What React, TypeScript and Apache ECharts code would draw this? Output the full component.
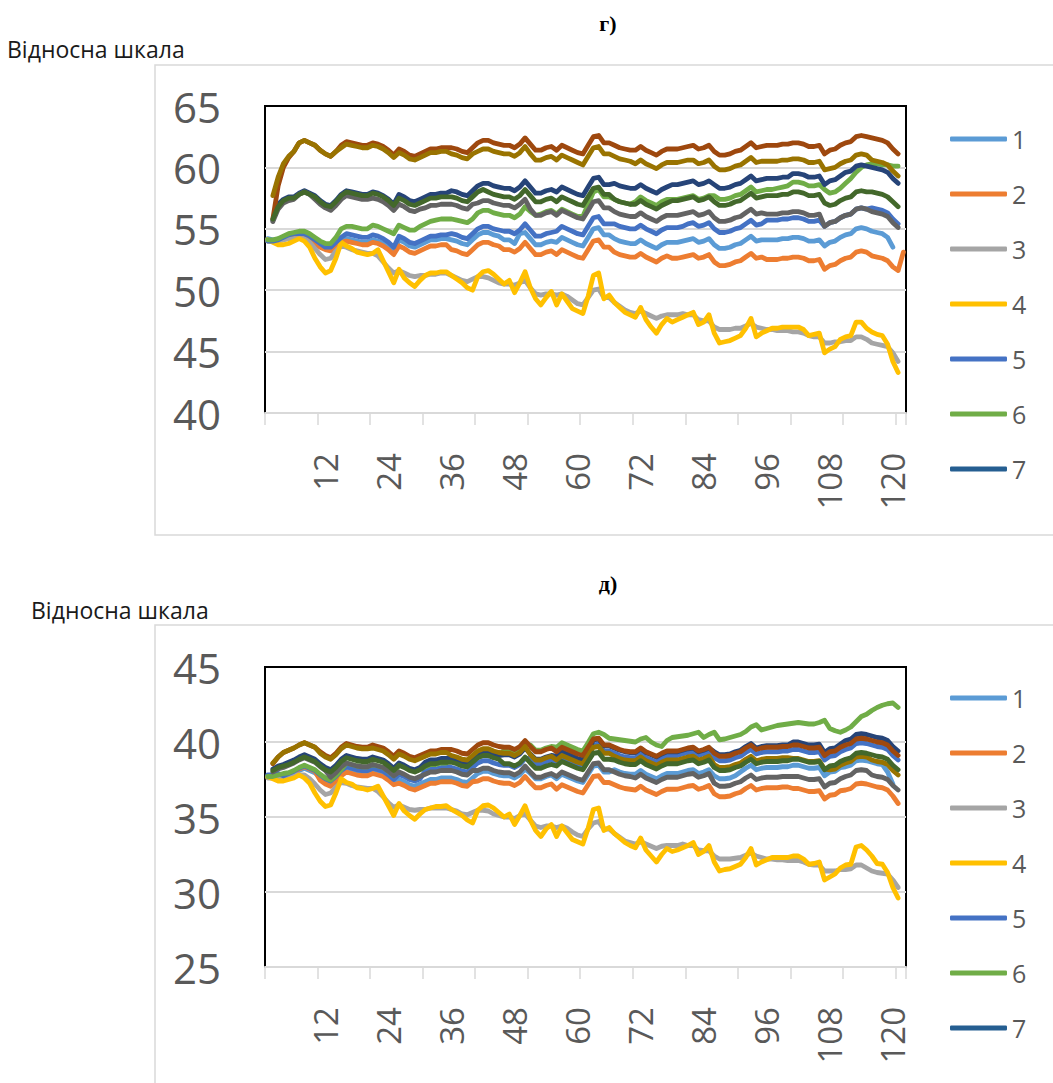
import React, { useEffect, useRef } from "react";
import * as echarts from "echarts";

// Category positions 1..122 along both x axes
const CATEGORIES = Array.from({ length: 122 }, (_, k) => String(k + 1));

const SERIES_NAMES = ["1", "2", "3", "4", "5", "6", "7", "8", "9", "10", "11"];
const SERIES_COLORS = [
  "#5B9BD5", "#ED7D31", "#A5A5A5", "#FFC000", "#4472C4", "#70AD47",
  "#264478", "#9E480E", "#636363", "#997300", "#43682B",
];
const LEGEND_NAMES = ["1", "2", "3", "4", "5", "6", "7"];
const LEGEND_7_COLOR = "#255E91";

const TITLE_TOP = "г)";
const TITLE_BOTTOM = "д)";
const Y_CAPTION = "Відносна шкала";

// ---------- panel г) ----------
const G_S1 = [
  54.2, 54.1, 54.1, 54.2, 54.4, 54.5, 54.5, 54.5, 54.3, 54.0,
  53.7, 53.5, 53.5, 53.8, 54.1, 54.2, 54.1, 54.0, 53.9, 53.9,
  54.1, 54.0, 53.8, 53.5, 53.1, 54.1, 53.9, 53.6, 53.5, 53.7,
  53.9, 54.1, 54.1, 54.2, 54.2, 54.1, 54.0, 53.8, 53.7, 54.1,
  54.5, 54.7, 54.7, 54.5, 54.4, 54.1, 54.1, 53.8, 54.6, 54.7,
  54.2, 53.7, 53.7, 53.9, 54.0, 53.9, 54.3, 54.1, 53.9, 53.7,
  53.6, 54.3, 55.0, 55.1, 54.5, 54.5, 54.2, 54.0, 53.9, 53.8,
  53.8, 54.1, 53.8, 53.6, 53.4, 53.7, 53.9, 53.9, 53.9, 54.0,
  54.1, 54.2, 53.9, 54.0, 54.2, 53.7, 53.4, 53.4, 53.5, 53.7,
  53.8, 54.1, 54.4, 54.0, 54.1, 54.1, 54.1, 54.1, 54.2, 54.2,
  54.3, 54.3, 54.2, 54.0, 54.0, 54.1, 53.6, 53.9, 54.0, 54.3,
  54.5, 54.6, 55.0, 55.1, 55.0, 54.8, 54.7, 54.6, 54.3, 53.5,
  null, null,
];
const G_S2 = [
  54.0, 54.0, 54.1, 54.2, 54.3, 54.4, 54.4, 54.3, 54.1, 53.8,
  53.5, 53.3, 53.2, 53.5, 53.9, 54.0, 53.9, 53.8, 53.7, 53.7,
  53.9, 53.8, 53.6, 53.3, 52.9, 53.6, 53.4, 53.1, 53.0, 53.2,
  53.4, 53.6, 53.6, 53.7, 53.7, 53.3, 53.2, 53.0, 52.9, 53.3,
  53.7, 53.9, 53.9, 53.7, 53.6, 53.3, 53.3, 53.1, 53.4, 53.9,
  53.4, 52.9, 52.9, 53.1, 53.2, 52.9, 53.3, 53.1, 52.9, 52.7,
  52.6, 53.3, 54.0, 54.1, 53.5, 53.5, 53.1, 52.9, 52.8, 52.7,
  52.7, 53.0, 52.7, 52.5, 52.3, 52.6, 52.8, 52.6, 52.6, 52.7,
  52.8, 52.9, 52.6, 52.7, 52.9, 52.3, 52.0, 52.0, 52.1, 52.3,
  52.4, 52.7, 53.0, 52.6, 52.7, 52.5, 52.5, 52.5, 52.6, 52.6,
  52.7, 52.7, 52.6, 52.4, 52.4, 52.5, 51.7, 52.0, 52.1, 52.4,
  52.6, 52.7, 53.1, 53.2, 53.1, 52.8, 52.7, 52.6, 52.4, 51.9,
  51.6, 53.1,
];
const G_S3 = [
  54.0, 54.0, 54.0, 54.1, 54.2, 54.2, 54.2, 54.2, 53.9, 53.4,
  52.9, 52.5, 52.6, 53.2, 53.6, 53.5, 53.3, 53.2, 53.1, 53.0,
  53.0, 52.8, 52.3, 51.8, 51.4, 51.6, 51.4, 51.2, 51.1, 51.2,
  51.2, 51.3, 51.3, 51.4, 51.4, 51.2, 51.0, 50.8, 50.7, 50.9,
  51.1, 51.1, 51.0, 50.8, 50.6, 50.5, 50.5, 50.4, 50.6, 50.8,
  50.2, 49.7, 49.6, 49.7, 49.7, 49.6, 49.7, 49.5, 49.2, 48.9,
  48.8, 49.4, 50.0, 50.1, 49.4, 49.4, 49.0, 48.7, 48.4, 48.2,
  48.1, 48.3, 48.1, 47.9, 47.7, 47.9, 48.0, 48.0, 48.0, 48.1,
  48.0, 48.0, 47.6, 47.5, 47.5, 47.0, 46.8, 46.8, 46.8, 46.9,
  46.9, 47.1, 47.3, 47.0, 46.9, 46.8, 46.8, 46.7, 46.7, 46.7,
  46.6, 46.6, 46.5, 46.3, 46.2, 46.2, 45.7, 45.7, 45.8, 45.8,
  45.9, 45.9, 46.2, 46.2, 46.0, 45.7, 45.6, 45.5, 45.4, 44.9,
  44.2, null,
];
const G_S4 = [
  54.1, 53.9, 53.7, 53.7, 53.8, 54.0, 54.2, 54.0, 53.5, 52.6,
  51.9, 51.4, 51.6, 52.6, 53.9, 53.6, 53.4, 53.1, 53.0, 52.9,
  53.0, 53.3, 52.4, 51.5, 50.6, 51.7, 51.0, 50.6, 50.3, 50.8,
  51.2, 51.4, 51.4, 51.5, 51.5, 51.2, 50.9, 50.6, 50.2, 50.0,
  51.1, 51.5, 51.6, 51.3, 50.9, 50.5, 50.8, 49.8, 50.6, 51.5,
  50.2, 49.3, 48.8, 49.4, 49.9, 48.8, 49.7, 49.1, 48.5, 48.3,
  48.1, 49.5, 51.2, 51.4, 49.3, 49.6, 49.0, 48.6, 48.2, 48.0,
  47.8, 48.6, 47.6, 47.0, 46.5, 47.2, 47.7, 47.4, 47.6, 47.8,
  48.0, 48.2, 47.2, 47.4, 48.0, 46.5, 45.7, 45.8, 45.9, 46.1,
  46.3, 46.9, 47.7, 46.2, 46.5, 46.7, 46.9, 46.9, 47.0, 47.0,
  47.0, 47.0, 46.8, 46.3, 46.4, 46.5, 44.9, 45.2, 45.4, 46.0,
  46.2, 46.3, 47.4, 47.4, 46.9, 46.6, 46.4, 46.3, 45.6, 44.2,
  43.3, null,
];
const G_S5 = [
  54.0, 54.0, 54.1, 54.3, 54.5, 54.6, 54.6, 54.6, 54.4, 54.1,
  53.8, 53.5, 53.5, 53.9, 54.3, 54.6, 54.5, 54.4, 54.3, 54.3,
  54.5, 54.4, 54.2, 53.9, 53.5, 54.4, 54.2, 53.9, 53.8, 54.0,
  54.2, 54.4, 54.4, 54.5, 54.5, 54.6, 54.5, 54.3, 54.2, 54.6,
  55.0, 55.2, 55.2, 55.0, 54.9, 54.8, 54.8, 54.6, 54.9, 55.4,
  54.9, 54.4, 54.4, 54.6, 54.7, 54.8, 55.2, 55.0, 54.8, 54.6,
  54.5, 55.2, 55.9, 56.0, 55.4, 55.4, 55.4, 55.2, 55.1, 55.0,
  55.0, 55.3, 55.0, 54.8, 54.6, 54.9, 55.1, 55.1, 55.1, 55.2,
  55.4, 55.5, 55.2, 55.3, 55.5, 55.0, 54.7, 54.7, 54.8, 55.0,
  55.1, 55.4, 55.7, 55.3, 55.4, 55.7, 55.7, 55.7, 55.8, 55.8,
  55.9, 55.9, 55.8, 55.6, 55.6, 55.7, 55.2, 55.5, 55.6, 55.9,
  56.1, 56.2, 56.6, 56.7, 56.6, 56.7, 56.6, 56.5, 56.3, 55.8,
  55.4, null,
];
const G_S6 = [
  54.1, 54.1, 54.2, 54.4, 54.6, 54.7, 54.8, 54.8, 54.6, 54.3,
  54.0, 53.8, 53.8, 54.3, 55.0, 55.2, 55.2, 55.1, 55.0, 55.0,
  55.3, 55.2, 55.0, 54.8, 54.6, 55.3, 55.1, 54.9, 54.9, 55.2,
  55.4, 55.6, 55.7, 55.8, 55.8, 55.8, 55.7, 55.6, 55.5, 55.8,
  56.3, 56.5, 56.5, 56.3, 56.2, 56.1, 56.1, 55.9, 56.2, 56.8,
  56.4, 56.1, 56.2, 56.4, 56.5, 56.2, 56.6, 56.4, 56.2, 56.0,
  56.0, 57.0, 58.0, 58.2, 57.6, 57.6, 57.4, 57.2, 57.1, 57.0,
  57.2, 57.6, 57.3, 57.1, 56.9, 57.2, 57.4, 57.4, 57.4, 57.5,
  57.6, 57.7, 57.4, 57.5, 57.7, 57.7, 57.4, 57.4, 57.5, 57.7,
  57.8, 58.1, 58.4, 58.0, 58.1, 58.2, 58.2, 58.3, 58.4, 58.5,
  58.8, 58.8, 58.7, 58.5, 58.5, 58.6, 58.2, 57.9, 58.0, 58.3,
  58.7, 59.1, 59.6, 60.0, 60.2, 60.3, 60.3, 60.2, 60.2, 60.1,
  60.1, null,
];
const G_S7 = [
  null, 55.7, 57.0, 57.4, 57.6, 57.6, 57.9, 58.1, 57.9, 57.7,
  57.3, 57.0, 56.9, 57.3, 57.8, 58.1, 58.0, 57.9, 57.8, 57.8,
  58.0, 57.9, 57.7, 57.4, 57.0, 57.8, 57.6, 57.3, 57.2, 57.4,
  57.6, 57.8, 57.8, 57.9, 57.9, 58.1, 58.0, 57.8, 57.7, 58.1,
  58.5, 58.7, 58.7, 58.5, 58.4, 58.3, 58.3, 58.1, 58.4, 58.9,
  58.4, 57.9, 57.9, 58.1, 58.2, 58.0, 58.4, 58.2, 58.0, 57.8,
  57.7, 58.4, 59.1, 59.2, 58.6, 58.6, 58.7, 58.5, 58.4, 58.3,
  58.3, 58.6, 58.3, 58.1, 57.9, 58.2, 58.4, 58.6, 58.6, 58.7,
  58.8, 58.9, 58.6, 58.7, 58.9, 58.6, 58.3, 58.3, 58.4, 58.6,
  58.7, 59.0, 59.3, 58.9, 59.0, 59.1, 59.1, 59.1, 59.2, 59.2,
  59.5, 59.5, 59.4, 59.2, 59.2, 59.3, 58.6, 58.9, 59.0, 59.3,
  59.6, 59.7, 60.1, 60.2, 60.1, 60.0, 59.9, 59.8, 59.6, 59.1,
  58.7, null,
];
const G_S8 = [
  null, 55.8, 58.5, 60.0, 60.8, 61.3, 62.0, 62.2, 62.0, 61.8,
  61.4, 61.1, 60.9, 61.3, 61.8, 62.1, 62.0, 61.9, 61.8, 61.8,
  62.0, 61.9, 61.7, 61.4, 61.0, 61.5, 61.3, 61.0, 60.9, 61.1,
  61.3, 61.5, 61.5, 61.6, 61.6, 61.6, 61.5, 61.3, 61.2, 61.6,
  62.0, 62.2, 62.2, 62.0, 61.9, 61.8, 61.8, 61.6, 61.9, 62.4,
  61.9, 61.4, 61.4, 61.6, 61.7, 61.4, 61.8, 61.6, 61.4, 61.2,
  61.1, 61.8, 62.5, 62.6, 62.0, 62.0, 61.8, 61.6, 61.5, 61.4,
  61.4, 61.7, 61.4, 61.2, 61.0, 61.3, 61.5, 61.5, 61.5, 61.6,
  61.7, 61.8, 61.5, 61.6, 61.8, 61.3, 61.0, 61.0, 61.1, 61.3,
  61.4, 61.7, 62.0, 61.6, 61.7, 61.8, 61.8, 61.8, 61.9, 61.9,
  62.0, 62.0, 61.9, 61.7, 61.7, 61.8, 61.1, 61.4, 61.5, 61.8,
  62.0, 62.1, 62.5, 62.6, 62.5, 62.4, 62.3, 62.2, 62.0, 61.5,
  61.1, null,
];
const G_S9 = [
  null, 55.6, 56.6, 57.1, 57.3, 57.4, 57.8, 58.0, 57.8, 57.4,
  57.0, 56.7, 56.5, 56.9, 57.4, 57.7, 57.6, 57.5, 57.4, 57.4,
  57.5, 57.4, 57.2, 56.9, 56.5, 57.0, 56.8, 56.5, 56.4, 56.6,
  56.7, 56.9, 56.9, 57.0, 57.0, 57.0, 56.9, 56.7, 56.6, 57.0,
  57.1, 57.3, 57.3, 57.1, 57.0, 56.9, 56.9, 56.7, 57.0, 57.4,
  56.6, 56.1, 56.1, 56.3, 56.4, 56.1, 56.5, 56.3, 56.1, 55.9,
  55.8, 56.5, 57.2, 57.3, 56.7, 56.7, 56.4, 56.2, 56.1, 56.0,
  56.0, 56.3, 56.0, 55.8, 55.6, 55.9, 56.1, 56.1, 56.1, 56.2,
  56.3, 56.4, 56.1, 56.2, 56.4, 55.9, 55.6, 55.6, 55.7, 55.9,
  56.0, 56.3, 56.6, 56.2, 56.3, 56.2, 56.2, 56.2, 56.3, 56.3,
  56.4, 56.4, 56.3, 56.1, 56.1, 56.2, 55.2, 55.5, 55.6, 55.9,
  56.1, 56.2, 56.6, 56.7, 56.6, 56.4, 56.3, 56.2, 56.0, 55.5,
  55.1, null,
];
const G_S10 = [
  null, 57.7, 59.2, 60.3, 60.9, 61.3, 62.0, 62.2, 62.0, 61.8,
  61.4, 61.1, 60.9, 61.3, 61.6, 61.9, 61.8, 61.7, 61.6, 61.6,
  61.8, 61.7, 61.5, 61.2, 60.8, 61.2, 61.0, 60.7, 60.6, 60.8,
  61.0, 61.2, 61.2, 61.3, 61.3, 61.1, 61.0, 60.8, 60.7, 61.1,
  61.3, 61.5, 61.5, 61.3, 61.2, 61.1, 61.1, 60.9, 61.2, 61.7,
  61.1, 60.6, 60.6, 60.8, 60.9, 60.6, 61.0, 60.8, 60.6, 60.4,
  60.2, 60.9, 61.6, 61.7, 61.1, 61.1, 60.9, 60.7, 60.6, 60.5,
  60.3, 60.6, 60.3, 60.1, 59.9, 60.2, 60.4, 60.4, 60.4, 60.5,
  60.6, 60.6, 60.3, 60.4, 60.6, 60.1, 59.8, 59.8, 59.9, 60.1,
  60.2, 60.5, 60.8, 60.4, 60.5, 60.5, 60.5, 60.5, 60.6, 60.6,
  60.7, 60.7, 60.6, 60.4, 60.4, 60.5, 59.8, 59.9, 60.0, 60.3,
  60.5, 60.6, 61.0, 61.1, 61.0, 60.6, 60.5, 60.4, 60.2, 59.7,
  59.3, null,
];
const G_S11 = [
  null, 55.8, 56.8, 57.3, 57.5, 57.5, 57.8, 58.0, 57.8, 57.6,
  57.2, 56.9, 56.8, 57.2, 57.7, 58.0, 57.9, 57.8, 57.7, 57.7,
  57.9, 57.8, 57.6, 57.3, 56.9, 57.5, 57.3, 57.0, 56.9, 57.1,
  57.3, 57.5, 57.5, 57.6, 57.6, 57.6, 57.5, 57.3, 57.2, 57.6,
  58.0, 58.2, 58.0, 57.8, 57.7, 57.6, 57.6, 57.4, 57.7, 58.2,
  57.7, 57.2, 57.2, 57.4, 57.5, 57.2, 57.6, 57.4, 57.2, 57.0,
  56.9, 57.6, 58.3, 58.4, 57.8, 57.8, 57.4, 57.2, 57.1, 57.0,
  57.0, 57.3, 57.0, 56.8, 56.6, 56.9, 57.1, 57.3, 57.3, 57.4,
  57.5, 57.6, 57.3, 57.4, 57.6, 57.2, 56.9, 56.9, 57.0, 57.2,
  57.3, 57.6, 57.9, 57.5, 57.6, 57.7, 57.7, 57.7, 57.8, 57.8,
  58.0, 58.0, 57.9, 57.7, 57.7, 57.8, 57.1, 56.9, 57.0, 57.3,
  57.5, 57.6, 58.0, 58.1, 58.0, 58.0, 57.9, 57.8, 57.6, 57.2,
  56.8, null,
];

// ---------- panel д) ----------
const D_S1 = [
  37.7, 37.7, 37.7, 37.7, 37.75, 37.9, 38.1, 38.25, 38.1, 37.95,
  37.65, 37.4, 37.25, 37.55, 37.95, 38.2, 38.1, 38.0, 37.95, 37.95,
  38.1, 38.0, 37.9, 37.65, 37.35, 37.5, 37.35, 37.15, 37.05, 37.2,
  37.35, 37.5, 37.5, 37.6, 37.6, 37.6, 37.5, 37.35, 37.3, 37.6,
  37.9, 38.05, 38.05, 37.9, 37.8, 37.75, 37.75, 37.6, 37.8, 38.2,
  37.9, 37.55, 37.55, 37.7, 37.8, 37.55, 37.85, 37.7, 37.55, 37.4,
  37.3, 37.85, 38.4, 38.45, 38.0, 38.0, 38.15, 38.0, 37.9, 37.85,
  37.85, 38.1, 37.85, 37.7, 37.55, 37.75, 37.9, 37.9, 37.9, 38.0,
  38.1, 38.15, 37.9, 38.0, 38.15, 37.75, 37.55, 37.55, 37.6, 37.75,
  38.0, 38.25, 38.45, 38.15, 38.25, 38.3, 38.3, 38.3, 38.35, 38.35,
  38.45, 38.45, 38.35, 38.25, 38.25, 38.3, 37.75, 38.0, 38.05, 38.3,
  38.35, 38.45, 38.75, 38.8, 38.75, 38.65, 38.55, 38.5, 38.0, 37.2,
  null, null,
];
const D_S2 = [
  37.7, 37.7, 37.8, 37.7, 37.85, 38.0, 38.2, 38.35, 38.2, 38.05,
  37.45, 37.2, 37.05, 37.35, 37.75, 38.0, 37.9, 37.8, 37.75, 37.75,
  37.9, 37.8, 37.7, 37.45, 37.15, 37.25, 37.1, 36.9, 36.8, 36.95,
  37.1, 37.25, 37.25, 37.35, 37.35, 37.35, 37.25, 37.1, 37.05, 37.35,
  37.4, 37.55, 37.55, 37.4, 37.3, 37.25, 37.25, 37.1, 37.3, 37.7,
  37.3, 36.95, 36.95, 37.1, 37.2, 36.85, 37.15, 37.0, 36.85, 36.7,
  36.6, 37.15, 37.7, 37.75, 37.3, 37.3, 37.15, 37.0, 36.9, 36.85,
  36.8, 37.05, 36.8, 36.65, 36.5, 36.7, 36.85, 36.85, 36.85, 36.95,
  37.05, 37.1, 36.85, 36.95, 37.1, 36.55, 36.35, 36.35, 36.4, 36.55,
  36.65, 36.9, 37.1, 36.8, 36.9, 36.95, 36.95, 36.95, 37.0, 37.0,
  36.9, 36.9, 36.8, 36.7, 36.7, 36.75, 36.2, 36.45, 36.5, 36.75,
  36.8, 36.9, 37.2, 37.25, 37.2, 37.1, 37.0, 36.95, 36.8, 36.4,
  35.9, null,
];
const D_S3 = [
  37.6, 37.6, 37.6, 37.7, 37.8, 37.8, 37.8, 37.8, 37.55, 37.2,
  36.8, 36.5, 36.6, 37.0, 37.3, 37.25, 37.1, 37.0, 36.95, 36.9,
  36.9, 36.7, 36.35, 35.95, 35.65, 35.8, 35.65, 35.5, 35.45, 35.5,
  35.5, 35.6, 35.6, 35.6, 35.6, 35.5, 35.4, 35.2, 35.15, 35.3,
  35.45, 35.45, 35.4, 35.2, 35.1, 35.0, 35.0, 34.9, 35.1, 35.2,
  34.8, 34.4, 34.3, 34.4, 34.4, 34.3, 34.4, 34.25, 34.0, 33.8,
  33.7, 34.2, 34.6, 34.7, 34.2, 34.2, 33.9, 33.65, 33.4, 33.3,
  33.2, 33.35, 33.2, 33.05, 32.9, 33.05, 33.1, 33.1, 33.1, 33.2,
  33.1, 33.1, 32.8, 32.75, 32.75, 32.4, 32.2, 32.2, 32.2, 32.25,
  32.3, 32.45, 32.6, 32.4, 32.3, 32.2, 32.2, 32.15, 32.15, 32.1,
  32.1, 32.1, 32.0, 31.85, 31.8, 31.8, 31.4, 31.4, 31.4, 31.5,
  31.5, 31.55, 31.8, 31.8, 31.6, 31.4, 31.3, 31.25, 31.2, 30.8,
  30.3, null,
];
const D_S4 = [
  37.7, 37.55, 37.4, 37.4, 37.5, 37.6, 37.8, 37.6, 37.25, 36.6,
  36.05, 35.7, 35.8, 36.6, 37.55, 37.3, 37.2, 36.95, 36.9, 36.8,
  36.9, 37.05, 36.4, 35.75, 35.1, 35.9, 35.4, 35.1, 34.85, 35.2,
  35.5, 35.6, 35.7, 35.7, 35.75, 35.5, 35.3, 35.1, 34.8, 34.6,
  35.45, 35.75, 35.8, 35.6, 35.3, 35.0, 35.2, 34.5, 35.1, 35.75,
  34.8, 34.1, 33.7, 34.2, 34.5, 33.7, 34.4, 33.95, 33.5, 33.35,
  33.2, 34.25, 35.5, 35.6, 34.1, 34.3, 33.9, 33.6, 33.3, 33.1,
  32.95, 33.6, 32.8, 32.4, 32.0, 32.5, 32.9, 32.7, 32.8, 32.95,
  33.1, 33.3, 32.5, 32.7, 33.1, 32.0, 31.4, 31.5, 31.55, 31.7,
  31.85, 32.3, 32.9, 31.8, 32.0, 32.15, 32.3, 32.3, 32.3, 32.3,
  32.4, 32.4, 32.2, 31.85, 31.9, 32.0, 30.8, 31.0, 31.2, 31.6,
  31.8, 31.85, 33.0, 33.1, 32.8, 32.4, 31.9, 31.85, 31.3, 30.3,
  29.6, null,
];
const D_S5 = [
  37.8, 37.8, 37.9, 37.75, 37.9, 38.05, 38.25, 38.4, 38.25, 38.1,
  37.8, 37.55, 37.4, 37.7, 38.1, 38.35, 38.25, 38.15, 38.1, 38.1,
  38.25, 38.15, 38.05, 37.8, 37.5, 37.85, 37.7, 37.5, 37.4, 37.55,
  38.05, 38.2, 38.2, 38.3, 38.3, 38.3, 38.2, 38.05, 38.0, 38.3,
  38.6, 38.75, 38.75, 38.6, 38.5, 38.45, 38.45, 38.3, 38.5, 38.9,
  38.9, 38.55, 38.55, 38.7, 38.8, 38.55, 38.85, 38.7, 38.55, 38.4,
  38.3, 38.85, 39.8, 39.85, 39.4, 39.4, 39.25, 39.1, 39.0, 38.95,
  38.95, 39.2, 38.95, 38.8, 38.65, 38.95, 39.1, 39.1, 39.1, 39.2,
  39.3, 39.35, 39.1, 39.2, 39.35, 38.95, 38.75, 38.75, 38.8, 38.95,
  39.05, 39.3, 39.5, 39.2, 39.3, 39.35, 39.35, 39.35, 39.4, 39.4,
  39.5, 39.5, 39.4, 39.3, 39.3, 39.35, 38.8, 39.05, 39.1, 39.35,
  39.5, 39.6, 39.9, 39.95, 39.9, 39.8, 39.7, 39.65, 39.5, 39.1,
  38.8, null,
];
const D_S6 = [
  37.7, 37.7, 37.8, 37.9, 37.95, 38.1, 38.3, 38.45, 38.3, 38.15,
  37.85, 37.6, 37.45, 37.75, 38.15, 38.6, 38.5, 38.4, 38.35, 38.35,
  38.5, 38.4, 38.3, 38.05, 37.75, 38.5, 38.35, 38.15, 38.05, 38.2,
  38.35, 38.5, 38.5, 38.6, 38.6, 38.9, 38.8, 38.65, 38.6, 38.9,
  39.2, 39.35, 39.35, 39.2, 39.1, 39.45, 39.45, 39.3, 39.5, 39.9,
  39.8, 39.45, 39.45, 39.6, 39.7, 39.65, 39.95, 39.8, 39.65, 39.5,
  39.4, 39.95, 40.55, 40.65, 40.5, 40.25, 40.2, 40.15, 40.1, 40.05,
  40.0, 40.2, 40.3, 40.0, 39.8, 39.7, 40.1, 40.3, 40.35, 40.4,
  40.45, 40.55, 40.65, 40.3, 40.5, 40.65, 40.15, 40.2, 40.3, 40.4,
  40.5, 40.7, 41.0, 41.15, 40.8, 40.9, 41.0, 41.1, 41.15, 41.2,
  41.25, 41.3, 41.25, 41.2, 41.2, 41.3, 41.45, 40.9, 40.75, 40.65,
  40.8, 41.0, 41.35, 41.7, 41.85, 42.1, 42.3, 42.45, 42.55, 42.6,
  42.3, null,
];
const D_S7 = [
  null, 38.2, 38.4, 38.5, 38.65, 38.8, 39.0, 39.15, 39.0, 38.85,
  38.55, 38.3, 38.15, 38.45, 38.85, 39.1, 39.0, 38.9, 38.85, 38.85,
  39.0, 38.9, 38.8, 38.55, 38.25, 38.6, 38.45, 38.25, 38.15, 38.3,
  38.65, 38.8, 38.8, 38.9, 38.9, 38.9, 38.8, 38.65, 38.6, 38.9,
  39.2, 39.35, 39.35, 39.2, 39.1, 39.15, 39.15, 39.0, 39.2, 39.6,
  39.2, 38.85, 38.85, 39.0, 39.1, 39.05, 39.35, 39.2, 39.05, 38.9,
  38.8, 39.35, 40.15, 40.2, 39.75, 39.75, 39.6, 39.45, 39.35, 39.3,
  39.3, 39.55, 39.3, 39.15, 39.0, 39.2, 39.35, 39.35, 39.35, 39.45,
  39.55, 39.6, 39.35, 39.45, 39.6, 39.35, 39.15, 39.15, 39.2, 39.35,
  39.45, 39.7, 39.9, 39.6, 39.7, 39.75, 39.75, 39.75, 39.8, 39.8,
  40.0, 40.0, 39.9, 39.8, 39.8, 39.85, 39.3, 39.55, 39.6, 39.85,
  40.1, 40.2, 40.5, 40.55, 40.5, 40.4, 40.3, 40.25, 40.1, 39.7,
  39.4, null,
];
const D_S8 = [
  null, 38.55, 39.0, 39.3, 39.45, 39.6, 39.8, 39.95, 39.8, 39.65,
  39.35, 39.1, 38.95, 39.25, 39.65, 39.9, 39.8, 39.7, 39.65, 39.65,
  39.8, 39.7, 39.6, 39.35, 39.05, 39.4, 39.25, 39.05, 38.95, 39.1,
  39.25, 39.4, 39.4, 39.5, 39.5, 39.5, 39.4, 39.25, 39.2, 39.5,
  39.8, 39.95, 39.95, 39.8, 39.7, 39.65, 39.65, 39.5, 39.7, 40.1,
  39.7, 39.35, 39.35, 39.5, 39.6, 39.35, 39.65, 39.5, 39.35, 39.2,
  39.1, 39.65, 40.2, 40.25, 39.8, 39.8, 39.65, 39.5, 39.4, 39.35,
  39.35, 39.6, 39.35, 39.2, 39.05, 39.25, 39.4, 39.4, 39.4, 39.5,
  39.6, 39.65, 39.4, 39.5, 39.65, 39.25, 39.05, 39.05, 39.1, 39.25,
  39.35, 39.6, 39.8, 39.5, 39.6, 39.65, 39.65, 39.65, 39.7, 39.7,
  39.8, 39.8, 39.7, 39.6, 39.6, 39.65, 39.1, 39.35, 39.4, 39.65,
  39.8, 39.9, 40.2, 40.25, 40.2, 40.1, 40.0, 39.95, 39.8, 39.4,
  39.1, null,
];
const D_S9 = [
  null, 38.0, 38.2, 38.3, 38.45, 38.6, 38.8, 38.95, 38.8, 38.65,
  38.35, 38.1, 37.65, 37.95, 38.35, 38.6, 38.5, 38.4, 38.35, 38.35,
  38.5, 38.4, 38.3, 38.05, 37.75, 38.0, 37.85, 37.65, 37.55, 37.7,
  37.85, 38.0, 38.0, 38.1, 38.1, 38.1, 38.0, 37.85, 37.8, 38.1,
  38.1, 38.25, 38.25, 38.1, 38.0, 37.95, 37.95, 37.8, 38.0, 38.4,
  38.0, 37.65, 37.65, 37.8, 37.9, 37.7, 38.0, 37.85, 37.7, 37.55,
  37.45, 38.0, 38.55, 38.6, 38.15, 38.15, 38.0, 37.85, 37.75, 37.7,
  37.6, 37.85, 37.6, 37.45, 37.3, 37.5, 37.65, 37.65, 37.65, 37.75,
  37.85, 37.9, 37.65, 37.75, 37.9, 37.25, 37.05, 37.05, 37.1, 37.25,
  37.35, 37.6, 37.8, 37.5, 37.6, 37.65, 37.65, 37.65, 37.7, 37.7,
  37.7, 37.7, 37.6, 37.5, 37.5, 37.55, 37.0, 37.25, 37.3, 37.55,
  37.7, 37.8, 38.1, 38.15, 38.1, 37.8, 37.7, 37.65, 37.5, 37.1,
  36.8, null,
];
const D_S10 = [
  null, 38.6, 39.0, 39.3, 39.45, 39.6, 39.8, 39.95, 39.8, 39.65,
  39.25, 39.0, 38.85, 39.15, 39.55, 39.8, 39.7, 39.6, 39.55, 39.55,
  39.6, 39.5, 39.4, 39.15, 38.85, 39.2, 39.05, 38.85, 38.75, 38.9,
  39.05, 39.2, 39.2, 39.3, 39.3, 39.1, 39.0, 38.85, 38.8, 39.1,
  39.4, 39.55, 39.55, 39.4, 39.3, 39.25, 39.25, 39.1, 39.3, 39.7,
  39.15, 38.8, 38.8, 38.95, 39.05, 38.8, 39.1, 38.95, 38.8, 38.65,
  38.55, 39.1, 39.65, 39.7, 39.25, 39.25, 39.05, 38.9, 38.8, 38.75,
  38.75, 39.0, 38.75, 38.6, 38.45, 38.65, 38.8, 38.8, 38.8, 38.9,
  39.0, 39.05, 38.8, 38.9, 39.05, 38.5, 38.3, 38.3, 38.35, 38.5,
  38.6, 38.85, 39.05, 38.75, 38.85, 38.9, 38.9, 38.9, 38.95, 38.95,
  38.9, 38.9, 38.8, 38.7, 38.7, 38.75, 38.2, 38.15, 38.2, 38.45,
  38.6, 38.7, 39.0, 39.05, 39.0, 38.8, 38.7, 38.65, 38.5, 38.1,
  37.8, null,
];
const D_S11 = [
  null, 38.1, 38.3, 38.4, 38.5, 38.65, 38.85, 39.0, 38.85, 38.7,
  38.4, 38.15, 38.0, 38.3, 38.7, 38.95, 38.85, 38.75, 38.7, 38.7,
  38.85, 38.75, 38.65, 38.4, 38.1, 38.45, 38.3, 38.1, 38.0, 38.15,
  38.4, 38.55, 38.55, 38.65, 38.65, 38.65, 38.55, 38.4, 38.35, 38.65,
  38.95, 39.1, 39.1, 38.95, 38.85, 38.55, 38.55, 38.4, 38.6, 39.0,
  38.6, 38.25, 38.25, 38.4, 38.5, 38.4, 38.7, 38.55, 38.4, 38.25,
  38.15, 38.7, 39.25, 39.3, 38.85, 38.85, 38.8, 38.65, 38.55, 38.5,
  38.5, 38.75, 38.5, 38.35, 38.2, 38.4, 38.55, 38.55, 38.55, 38.65,
  38.75, 38.8, 38.55, 38.65, 38.8, 38.3, 38.1, 38.1, 38.15, 38.3,
  38.4, 38.65, 38.85, 38.55, 38.65, 38.7, 38.7, 38.7, 38.75, 38.75,
  38.85, 38.85, 38.75, 38.65, 38.65, 38.7, 38.15, 38.4, 38.45, 38.7,
  38.85, 38.95, 39.25, 39.3, 39.25, 39.15, 39.05, 39.0, 38.85, 38.45,
  38.15, null,
];

const PANEL_G = [G_S1, G_S2, G_S3, G_S4, G_S5, G_S6, G_S7, G_S8, G_S9, G_S10, G_S11];
const PANEL_D = [D_S1, D_S2, D_S3, D_S4, D_S5, D_S6, D_S7, D_S8, D_S9, D_S10, D_S11];

const FONT = "'Open Sans', 'Noto Sans', sans-serif";
const GRAY_TEXT = "#595959";
const GRID_LINE = "#D9D9D9";

function buildXAxis(gridIndex: number) {
  return {
    type: "category",
    gridIndex,
    data: CATEGORIES,
    boundaryGap: true,
    axisLine: { show: true, lineStyle: { color: GRID_LINE, width: 2 } },
    axisTick: {
      show: true,
      interval: (index: number) => index % 10 === 0,
      length: 12,
      lineStyle: { color: GRID_LINE, width: 1.5 },
    },
    axisLabel: {
      interval: (index: number) => (index + 1) % 12 === 0,
      rotate: 90,
      fontSize: 33,
      color: GRAY_TEXT,
      fontFamily: FONT,
      margin: 40,
    },
    splitLine: { show: false },
  };
}

function buildYAxis(gridIndex: number, min: number, max: number) {
  return {
    type: "value",
    gridIndex,
    min,
    max,
    interval: 5,
    axisLine: { show: false },
    axisTick: { show: false },
    axisLabel: { fontSize: 42, color: GRAY_TEXT, fontFamily: FONT, margin: 44 },
    splitLine: { show: true, showMaxLine: false, lineStyle: { color: GRID_LINE, width: 2 } },
  };
}

function buildLegend(top: number) {
  return {
    orient: "vertical",
    left: 945,
    top,
    icon: "roundRect",
    itemWidth: 57,
    itemHeight: 5,
    itemGap: 29,
    selectedMode: false,
    textStyle: { fontSize: 25, color: GRAY_TEXT, fontFamily: FONT, lineHeight: 26 },
    data: LEGEND_NAMES.map((name) =>
      name === "7" ? { name, itemStyle: { color: LEGEND_7_COLOR } } : { name }
    ),
  };
}

function buildSeries(panel: (number | null)[][], axisIndex: number) {
  return panel.map((data, k) => ({
    type: "line",
    name: SERIES_NAMES[k],
    xAxisIndex: axisIndex,
    yAxisIndex: axisIndex,
    data,
    symbol: "none",
    showSymbol: false,
    connectNulls: false,
    lineStyle: { width: 4.8, color: SERIES_COLORS[k], cap: "round", join: "round" },
    itemStyle: { color: SERIES_COLORS[k] },
    emphasis: { disabled: true },
  }));
}

export default function App() {
  const ref = useRef<HTMLDivElement>(null);

  useEffect(() => {
    if (!ref.current) return;
    const chart = echarts.init(ref.current, undefined, { renderer: "svg" });
    chart.setOption({
      animation: false,
      backgroundColor: "#ffffff",
      grid: [
        { left: 265, top: 106, width: 641, height: 307, show: true, borderColor: "#000", borderWidth: 2, backgroundColor: "transparent" },
        { left: 265, top: 667, width: 641, height: 300, show: true, borderColor: "#000", borderWidth: 2, backgroundColor: "transparent" },
      ],
      xAxis: [buildXAxis(0), buildXAxis(1)],
      yAxis: [buildYAxis(0, 40, 65), buildYAxis(1, 25, 45)],
      legend: [buildLegend(121), buildLegend(680)],
      series: [...buildSeries(PANEL_G, 0), ...buildSeries(PANEL_D, 1)],
      graphic: [
        { type: "rect", shape: { x: 155, y: 65, width: 1000, height: 470 }, style: { fill: "none", stroke: GRID_LINE, lineWidth: 1.5 }, z: -1 },
        { type: "rect", shape: { x: 155, y: 625, width: 1000, height: 520 }, style: { fill: "none", stroke: GRID_LINE, lineWidth: 1.5 }, z: -1 },
        { type: "text", x: 608, y: 23, style: { text: TITLE_TOP, font: "bold 22px 'Liberation Serif', serif", fill: "#000", textAlign: "center", textVerticalAlign: "middle" } },
        { type: "text", x: 608, y: 583, style: { text: TITLE_BOTTOM, font: "bold 22px 'Liberation Serif', serif", fill: "#000", textAlign: "center", textVerticalAlign: "middle" } },
        { type: "text", x: 7, y: 49, style: { text: Y_CAPTION, font: `23px ${FONT}`, fill: "#1a1a1a", textAlign: "left", textVerticalAlign: "middle" } },
        { type: "text", x: 31, y: 610, style: { text: Y_CAPTION, font: `23px ${FONT}`, fill: "#1a1a1a", textAlign: "left", textVerticalAlign: "middle" } },
      ],
    });
    return () => chart.dispose();
  }, []);

  return (
    <div
      ref={ref}
      style={{ position: "fixed", left: 0, top: 0, width: 1053, height: 1083, background: "#fff" }}
    />
  );
}
